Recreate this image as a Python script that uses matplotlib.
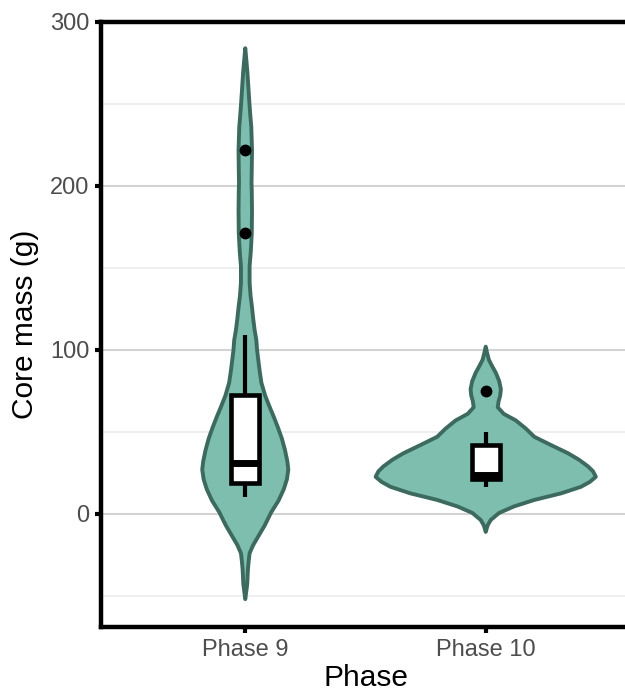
import numpy as np
import matplotlib
matplotlib.use("Agg")
import matplotlib.pyplot as plt

plt.rcParams['font.family'] = ['Liberation Sans', 'DejaVu Sans']

# ---------------- data ----------------
categories = ["Phase 9", "Phase 10"]

# violin outlines: value levels (g) and half-widths (in category units)
p9_levels = [284, 276, 269, 260, 251, 243, 236, 222, 210, 202, 197, 185, 171, 160,
             151, 141, 133, 126, 119, 112, 106, 100, 94, 87, 80, 72, 65, 59, 53,
             46, 39, 32, 27, 21, 15, 8, 1, -7, -14, -19, -24, -29, -34, -43, -52]
p9_halfw = [0.000, 0.005, 0.009, 0.013, 0.017, 0.021, 0.025, 0.028, 0.027, 0.026,
            0.027, 0.028, 0.027, 0.023, 0.018, 0.018, 0.022, 0.028, 0.033, 0.039,
            0.046, 0.049, 0.054, 0.060, 0.067, 0.083, 0.102, 0.119, 0.135, 0.152,
            0.165, 0.175, 0.179, 0.173, 0.160, 0.138, 0.108, 0.081, 0.053, 0.033,
            0.018, 0.014, 0.011, 0.008, 0.000]

p10_levels = [102, 98, 94, 90, 86, 81, 76, 72, 69, 65, 61, 57, 52, 47, 42, 37, 33,
              29, 26, 22.6, 19.5, 16.5, 12.5, 8.5, 4.5, 0.6, -3.7, -7, -11]
p10_halfw = [0.000, 0.006, 0.013, 0.027, 0.042, 0.056, 0.063, 0.060, 0.054, 0.050,
             0.075, 0.125, 0.167, 0.202, 0.271, 0.342, 0.388, 0.425, 0.446, 0.458,
             0.433, 0.396, 0.313, 0.202, 0.117, 0.056, 0.021, 0.008, 0.000]

# box plot statistics
box_q1 = [19, 21.3]
box_med = [30.8, 24]
box_q3 = [72.6, 42]
whisk_lo = [10.4, 16.5]
whisk_hi = [109, 50]
outliers = [[222, 171.3], [75]]

y_ticks = [0, 100, 200, 300]
y_minor = [-50, 50, 150, 250]

# ---------------- figure ----------------
fig = plt.figure(figsize=(6.25, 6.95), dpi=100)
ax = fig.add_axes([101 / 625, 1 - 627 / 695, 529 / 625, 605 / 695])

fill_c = "#7dbeaf"
edge_c = "#3d6a5e"

positions = [1, 2]
for pos, lev, hw in zip(positions, [p9_levels, p10_levels], [p9_halfw, p10_halfw]):
    lev = np.asarray(lev, float)
    hw = np.asarray(hw, float)
    xs = np.concatenate([pos + hw, (pos - hw)[::-1]])
    ys = np.concatenate([lev, lev[::-1]])
    ax.fill(xs, ys, facecolor=fill_c, edgecolor=edge_c, linewidth=2.8,
            joinstyle='round', zorder=3)

stats = []
for i in range(2):
    stats.append(dict(med=box_med[i], q1=box_q1[i], q3=box_q3[i],
                      whislo=whisk_lo[i], whishi=whisk_hi[i], fliers=outliers[i]))

ax.bxp(stats, positions=positions, widths=0.115, patch_artist=True,
       showcaps=False, manage_ticks=False,
       boxprops=dict(facecolor="white", edgecolor="black", linewidth=3.3),
       medianprops=dict(color="black", linewidth=5, solid_capstyle='butt'),
       whiskerprops=dict(color="black", linewidth=3, solid_capstyle='butt'),
       flierprops=dict(marker='o', markerfacecolor='black', markeredgecolor='black',
                       markersize=7.5),
       zorder=4)

ax.set_xlim(0.4, 2.6)
ax.set_ylim(-69, 300)

ax.set_yticks(y_ticks)
ax.set_yticks(y_minor, minor=True)
ax.set_xticks(positions)
ax.set_xticklabels(categories)

ax.grid(True, which='major', axis='y', color='#d3d3d3', linewidth=1.5, zorder=0)
ax.grid(True, which='minor', axis='y', color='#ebebeb', linewidth=1.1, zorder=0)
ax.set_axisbelow(True)

for s in ax.spines.values():
    s.set_linewidth(3.2)
    s.set_color('black')

ax.tick_params(axis='both', which='major', length=4.5, width=3, color='black',
               labelsize=17, labelcolor='#4d4d4d', pad=4)
ax.tick_params(axis='y', which='minor', length=0)

ax.set_ylabel("Core mass (g)", fontsize=21.5, color='black', labelpad=8)
ax.set_xlabel("Phase", fontsize=21.5, color='black', labelpad=2)

fig.savefig("out.png", dpi=100)
